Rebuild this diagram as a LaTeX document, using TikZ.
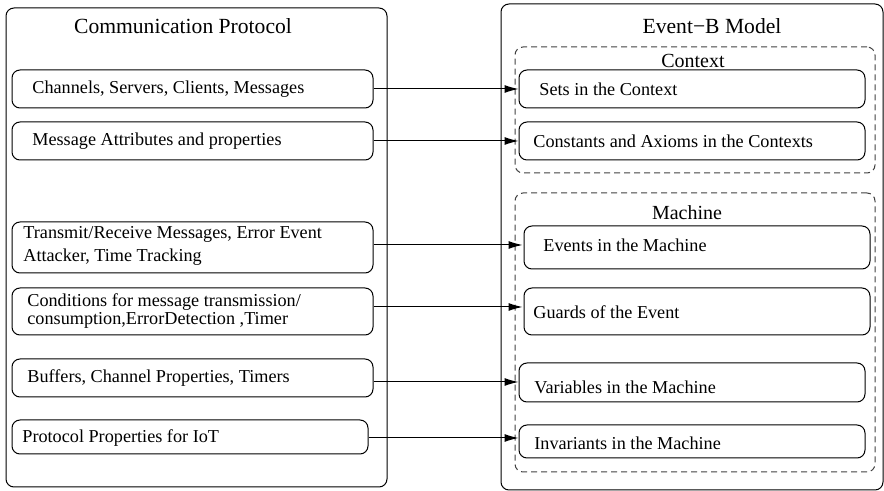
\documentclass[tikz,border=0pt]{standalone}
\usepackage{fontspec}
\setmainfont{Liberation Serif}[Ligatures=TeX]
\usetikzlibrary{fit,calc,arrows.meta}
\tikzset{
  outer/.style={draw, line width=0.5pt, rounded corners=4pt, inner sep=0pt},
  inbox/.style={draw, line width=0.5pt, rounded corners=4pt, inner sep=0pt},
  dbox/.style={draw, line width=0.5pt, rounded corners=4pt, inner sep=0pt, dash pattern=on 3pt off 2pt, draw=black!75},
  txt/.style={anchor=west, inner sep=0pt, align=left, font=\rmfamily\fontsize{9.1}{11.5}\selectfont},
  ttl/.style={inner sep=0pt, font=\rmfamily\fontsize{10.8}{13}\selectfont},
  sub/.style={inner sep=0pt, font=\rmfamily\fontsize{10}{12}\selectfont},
  arr/.style={line width=0.5pt, -{Latex[length=7pt,width=4pt]}}
}
\begin{document}
\begin{tikzpicture}[x=0.5pt,y=-0.5pt]
\useasboundingbox (0,0) rectangle (884,491);
% outer boxes
\node[outer, fit={(6,8) (387,487)}] (L) {};
\node[outer, fit={(501,4) (883,490)}] (R) {};
\node[ttl] (Lt) at (183,26) {Communication Protocol};
\node[ttl] (Rt) at (712,26) {Event−B Model};
% dashed boxes
\node[dbox, fit={(515,47) (875,173)}] (C) {};
\node[sub] (Ct) at (693,61) {Context};
\node[dbox, fit={(515,193) (875,472)}] (M) {};
\node[sub] (Mt) at (687,213) {Machine};
% left boxes
\node[inbox, fit={(12,70) (373,108)}] (l1) {};
\node[inbox, fit={(12,122) (373,160)}] (l2) {};
\node[inbox, fit={(12,222) (373,273)}] (l3) {};
\node[inbox, fit={(12,288) (373,335)}] (l4) {};
\node[inbox, fit={(12,359) (373,397)}] (l5) {};
\node[inbox, fit={(12,420) (368,454)}] (l6) {};
\node[txt] (tl1) at (32,89) {Channels, Servers, Clients, Messages};
\node[txt] (tl2) at (32,141) {Message Attributes and properties};
\node[txt] (tl3) at (23,246) {Transmit/Receive Messages, Error Event\\Attacker, Time Tracking};
\node[txt, font=\rmfamily\fontsize{9.1}{9.2}\selectfont] (tl4) at (27,311) {Conditions for message transmission/\\consumption,ErrorDetection ,Timer};
\node[txt] (tl5) at (27,378) {Buffers, Channel Properties, Timers};
\node[txt] (tl6) at (22,438) {Protocol Properties for IoT};
% right boxes
\node[inbox, fit={(519,70) (865,108)}] (r1) {};
\node[inbox, fit={(519,122) (865,160)}] (r2) {};
\node[inbox, fit={(524,226) (870,269)}] (r3) {};
\node[inbox, fit={(524,288) (870,335)}] (r4) {};
\node[inbox, fit={(519,363) (865,402)}] (r5) {};
\node[inbox, fit={(519,425) (865,458)}] (r6) {};
\node[txt] (tr1) at (539,89) {Sets in the Context};
\node[txt] (tr2) at (533,141) {Constants and Axioms in the Contexts};
\node[txt] (tr3) at (543,245) {Events in the Machine};
\node[txt] (tr4) at (533,312) {Guards of the Event};
\node[txt] (tr5) at (534,387) {Variables in the Machine};
\node[txt] (tr6) at (534,443) {Invariants in the Machine};
% arrows
\draw[arr] (l1.east) -- (l1.east -| r1.west);
\draw[arr] (l2.east) -- (l2.east -| r2.west);
\coordinate (a3) at ($(l3.east)+(0,-2.5)$);
\draw[arr] (a3) -- ($(a3 -| r3.west)+(-1,0)$);
\coordinate (a4) at ($(l4.east)+(0,-4.5)$);
\draw[arr] (a4) -- ($(a4 -| r4.west)+(-1,0)$);
\coordinate (a5) at ($(l5.east)+(0,4)$);
\draw[arr] (a5) -- (a5 -| r5.west);
\coordinate (a6) at ($(l6.east)+(0,1)$);
\draw[arr] (a6) -- (a6 -| r6.west);
\end{tikzpicture}
\end{document}
